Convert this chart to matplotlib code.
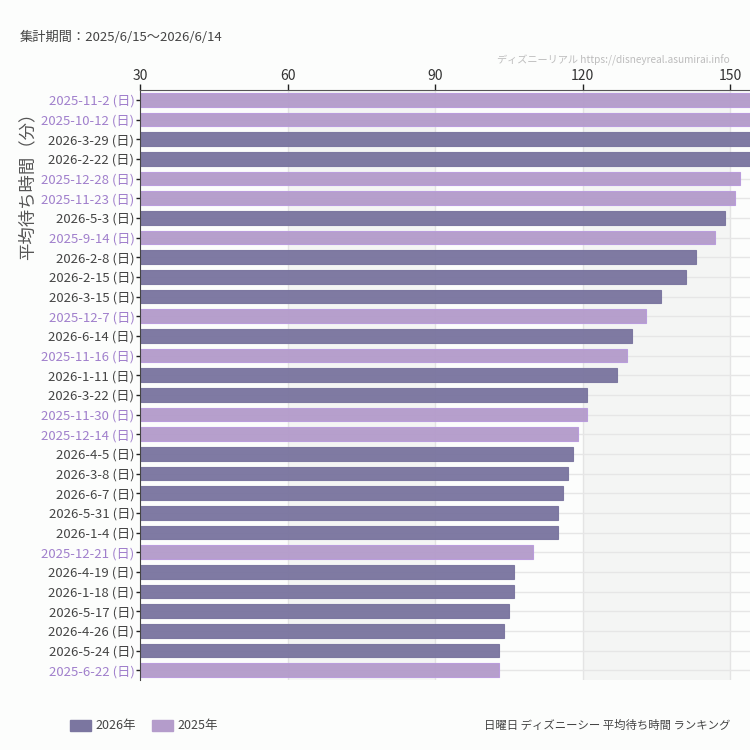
import numpy as np
import matplotlib
matplotlib.use('Agg')
from matplotlib import pyplot as plt
from matplotlib.patches import Rectangle

plt.rcParams['font.family'] = ['Noto Sans CJK JP', 'DejaVu Sans']
narrow = ['Liberation Sans Narrow', 'Noto Sans CJK JP', 'DejaVu Sans']

# ranking, top to bottom
dates = ['2025-11-2', '2025-10-12', '2026-3-29', '2026-2-22', '2025-12-28',
         '2025-11-23', '2026-5-3', '2025-9-14', '2026-2-8', '2026-2-15',
         '2026-3-15', '2025-12-7', '2026-6-14', '2025-11-16', '2026-1-11',
         '2026-3-22', '2025-11-30', '2025-12-14', '2026-4-5', '2026-3-8',
         '2026-6-7', '2026-5-31', '2026-1-4', '2025-12-21', '2026-4-19',
         '2026-1-18', '2026-5-17', '2026-4-26', '2026-5-24', '2025-6-22']
wait = [160, 158, 157, 156, 152, 151, 149, 147, 143, 141,
        136, 133, 130, 129, 127, 121, 121, 119, 118, 117,
        116, 115, 115, 110, 106, 106, 105, 104, 103, 103]
xticks = [30, 60, 90, 120, 150]

c2026 = '#7b76a0'
c2025 = '#b49ccb'
lab2026 = '#444444'
lab2025 = '#a07fcc'

years = [d[:4] for d in dates]
colors = [c2026 if y == '2026' else c2025 for y in years]
edges = [c2026 if y == '2026' else '#b99cdc' for y in years]
labcols = [lab2026 if y == '2026' else lab2025 for y in years]
labels = [d + ' (日)' for d in dates]

fig = plt.figure(figsize=(7.5, 7.5), dpi=100, facecolor='#fcfdfc')
ax = fig.add_axes([140/750, 70/750, 610/750, 590/750])
ax.set_facecolor('#fcfdfc')

n = len(dates)
y = np.arange(n)
xmin, xmax = 30, 30 + 610/4.917

# shaded bands
for a, b in [(60, 90), (120, 150)]:
    ax.axvspan(a, b, color='#f4f5f4', zorder=0, lw=0)
for t in xticks[1:]:
    ax.axvline(t, color='#e4e4e4', lw=1, zorder=1)
for yy in y:
    ax.axhline(yy, color='#e6e6e6', lw=1, zorder=1)

ax.barh(y, wait, left=0, height=0.68, color=colors, edgecolor=edges,
        linewidth=0.8, alpha=0.97, zorder=2)

ax.set_xlim(xmin, xmax)
ax.set_ylim(n - 0.5, -0.5)
ax.xaxis.tick_top()
ax.set_xticks(xticks)
ax.set_xticklabels([str(t) for t in xticks], fontsize=10, color='#333333')
ax.tick_params(axis='x', direction='out', length=4, width=1, color='#222222', pad=1)
ax.set_yticks(y)
ax.set_yticklabels(labels, fontsize=9.5)
for tl, c in zip(ax.get_yticklabels(), labcols):
    tl.set_color(c)
ax.tick_params(axis='y', direction='out', length=3, width=1, color='#222222', pad=1)

for s in ['right', 'bottom']:
    ax.spines[s].set_visible(False)
ax.spines['left'].set_color('#444444')
ax.spines['top'].set_color('#555555')

fig.text(20/750, 1 - 37/750, '集計期間：2025/6/15〜2026/6/14', fontsize=9.5,
         color='#444444', va='center', ha='left')
fig.text(730/750, 1 - 60/750, 'ディズニーリアル https://disneyreal.asumirai.info',
         fontsize=7.3, color='#bdbdbd', va='center', ha='right', family=narrow)
fig.text(27/750, 1 - 182/750, '平均待ち時間（分）', fontsize=12.5, color='#555555',
         rotation=90, va='center', ha='center')

# legend at the bottom
fig.patches.append(Rectangle((70/750, 1 - 731/750), 21/750, 11/750,
                             transform=fig.transFigure, color=c2026))
fig.text(95/750, 1 - 725/750, '2026年', fontsize=9, color='#444444', va='center',
         family=narrow)
fig.patches.append(Rectangle((152/750, 1 - 731/750), 21/750, 11/750,
                             transform=fig.transFigure, color=c2025))
fig.text(177/750, 1 - 725/750, '2025年', fontsize=9, color='#444444', va='center',
         family=narrow)
fig.text(730/750, 1 - 725/750, '日曜日 ディズニーシー 平均待ち時間 ランキング',
         fontsize=8.2, color='#444444', va='center', ha='right', family=narrow)

fig.savefig('out.png', dpi=100, facecolor=fig.get_facecolor())
